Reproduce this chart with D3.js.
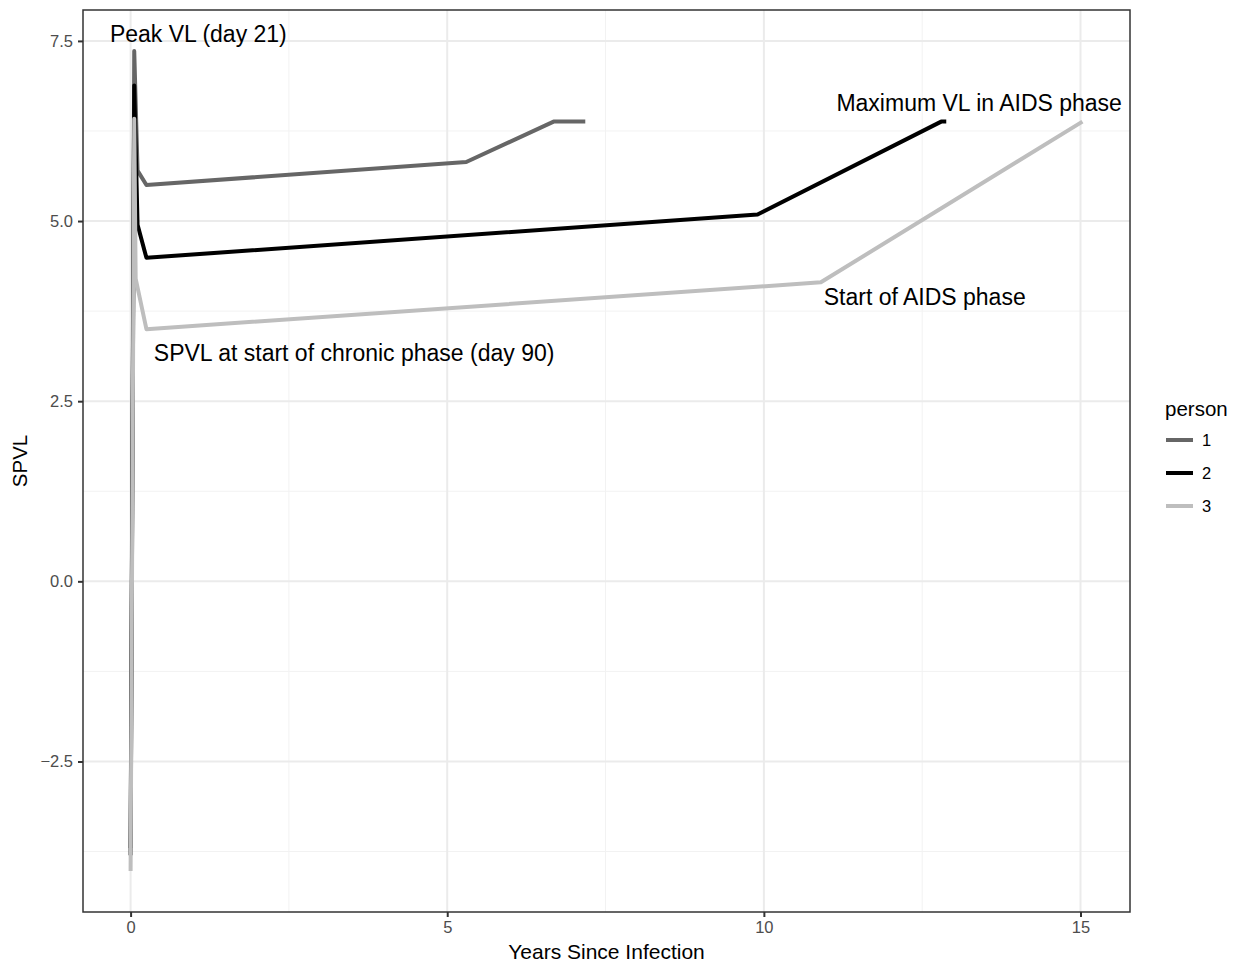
<!DOCTYPE html>
<html>
<head>
<meta charset="utf-8">
<script src="https://cdn.jsdelivr.net/npm/d3@7"></script>
<style>
  body { margin: 0; background: #fff; }
  text { font-family: "Liberation Sans", Arial, Helvetica, sans-serif; }
</style>
</head>
<body>
<svg id="chart" width="1239" height="963"></svg>
<script>
// values
let persons = ['1', '2', '3'];
let personColors = ['#666666', '#000000', '#bebebe'];

let years1 = [0, 0.0575, 0.11, 0.25, 5.3, 6.68, 7.18];
let spvl1  = [-3.7, 7.36, 5.70, 5.50, 5.82, 6.38, 6.38];
let years2 = [0, 0.0575, 0.11, 0.25, 9.9, 12.8, 12.88];
let spvl2  = [-3.8, 6.88, 4.95, 4.49, 5.09, 6.38, 6.38];
let years3 = [0, 0.0575, 0.08, 0.25, 10.9, 15.03];
let spvl3  = [-4.02, 6.42, 4.2, 3.50, 4.15, 6.38];

let xTicks = [0, 5, 10, 15];
let yTicks = [-2.5, 0, 2.5, 5, 7.5];
let xMinor = [2.5, 7.5, 12.5];
let yMinor = [-3.75, -1.25, 1.25, 3.75, 6.25];

let noteText = ['Peak VL (day 21)', 'Maximum VL in AIDS phase', 'Start of AIDS phase', 'SPVL at start of chronic phase (day 90)'];
let noteX = [1.07, 13.4, 12.54, 3.53];
let noteY = [7.6, 6.64, 3.94, 3.17];

let series = [
  {person: persons[0], color: personColors[0], pts: d3.zip(years1, spvl1)},
  {person: persons[1], color: personColors[1], pts: d3.zip(years2, spvl2)},
  {person: persons[2], color: personColors[2], pts: d3.zip(years3, spvl3)}
];

// panel box
let pLeft = 83, pRight = 1130, pTop = 10, pBottom = 912;

// ggplot-like 5% expansion
let allX = years1.concat(years2, years3);
let allY = spvl1.concat(spvl2, spvl3);
let xr = d3.extent(allX), yr = d3.extent(allY);
let xPad = (xr[1] - xr[0]) * 0.05, yPad = (yr[1] - yr[0]) * 0.05;

let x = d3.scaleLinear().domain([xr[0] - xPad, xr[1] + xPad]).range([pLeft, pRight]);
let y = d3.scaleLinear().domain([yr[0] - yPad, yr[1] + yPad]).range([pBottom, pTop]);

let svg = d3.select('#chart');

// grid
let grid = svg.append('g');
grid.selectAll('.xmin').data(xMinor).enter().append('line')
  .attr('x1', d => x(d)).attr('x2', d => x(d)).attr('y1', pTop).attr('y2', pBottom)
  .attr('stroke', '#f2f2f2').attr('stroke-width', 1);
grid.selectAll('.ymin').data(yMinor).enter().append('line')
  .attr('y1', d => y(d)).attr('y2', d => y(d)).attr('x1', pLeft).attr('x2', pRight)
  .attr('stroke', '#f2f2f2').attr('stroke-width', 1);
grid.selectAll('.xmaj').data(xTicks).enter().append('line')
  .attr('x1', d => x(d)).attr('x2', d => x(d)).attr('y1', pTop).attr('y2', pBottom)
  .attr('stroke', '#ebebeb').attr('stroke-width', 2);
grid.selectAll('.ymaj').data(yTicks).enter().append('line')
  .attr('y1', d => y(d)).attr('y2', d => y(d)).attr('x1', pLeft).attr('x2', pRight)
  .attr('stroke', '#ebebeb').attr('stroke-width', 2);

// lines
let line = d3.line().x(d => x(d[0])).y(d => y(d[1]));
svg.append('g').selectAll('path').data(series).enter().append('path')
  .attr('d', d => line(d.pts))
  .attr('fill', 'none')
  .attr('stroke', d => d.color)
  .attr('stroke-width', 4)
  .attr('stroke-linejoin', 'round');

// annotations
svg.append('g').selectAll('text').data(noteText).enter().append('text')
  .attr('x', (d, i) => x(noteX[i]))
  .attr('y', (d, i) => y(noteY[i]))
  .attr('dy', '0.35em')
  .attr('text-anchor', 'middle')
  .attr('font-size', 23)
  .attr('fill', '#000')
  .text(d => d);

// axes
let xAxis = svg.append('g').attr('transform', 'translate(0,' + pBottom + ')')
  .call(d3.axisBottom(x).tickValues(xTicks).tickSize(5).tickPadding(4).tickFormat(d3.format('d')));
let yAxis = svg.append('g').attr('transform', 'translate(' + pLeft + ',0)')
  .call(d3.axisLeft(y).tickValues(yTicks).tickSize(5).tickPadding(5).tickFormat(d => d3.format('.1f')(d).replace('-', '\u2212')));
[xAxis, yAxis].forEach(function(a) {
  a.select('.domain').remove();
  a.selectAll('.tick line').attr('stroke', '#333').attr('stroke-width', 2);
  a.selectAll('.tick text').attr('fill', '#4d4d4d').attr('font-size', 16.5)
    .style('font-family', '"Liberation Sans", Arial, sans-serif');
});

// panel border
svg.append('rect')
  .attr('x', pLeft).attr('y', pTop).attr('width', pRight - pLeft).attr('height', pBottom - pTop)
  .attr('fill', 'none').attr('stroke', '#333').attr('stroke-width', 1.5);

// axis titles
svg.append('text')
  .attr('x', (pLeft + pRight) / 2).attr('y', 959)
  .attr('text-anchor', 'middle').attr('font-size', 21)
  .text('Years Since Infection');
svg.append('text')
  .attr('transform', 'translate(27,' + (pTop + pBottom) / 2 + ') rotate(-90)')
  .attr('text-anchor', 'middle').attr('font-size', 20.5)
  .text('SPVL');

// legend
let legend = svg.append('g').attr('transform', 'translate(1165,0)');
legend.append('text').attr('x', 0).attr('y', 416).attr('font-size', 20.5).text('person');
let key = legend.selectAll('.key').data(series).enter().append('g')
  .attr('transform', (d, i) => 'translate(0,' + (440 + i * 33) + ')');
key.append('line')
  .attr('x1', 1).attr('x2', 28).attr('y1', 0).attr('y2', 0)
  .attr('stroke', d => d.color).attr('stroke-width', 4);
key.append('text')
  .attr('x', 37).attr('y', 0).attr('dy', '0.35em')
  .attr('font-size', 16.5).attr('fill', '#000')
  .text(d => d.person);
</script>
</body>
</html>
